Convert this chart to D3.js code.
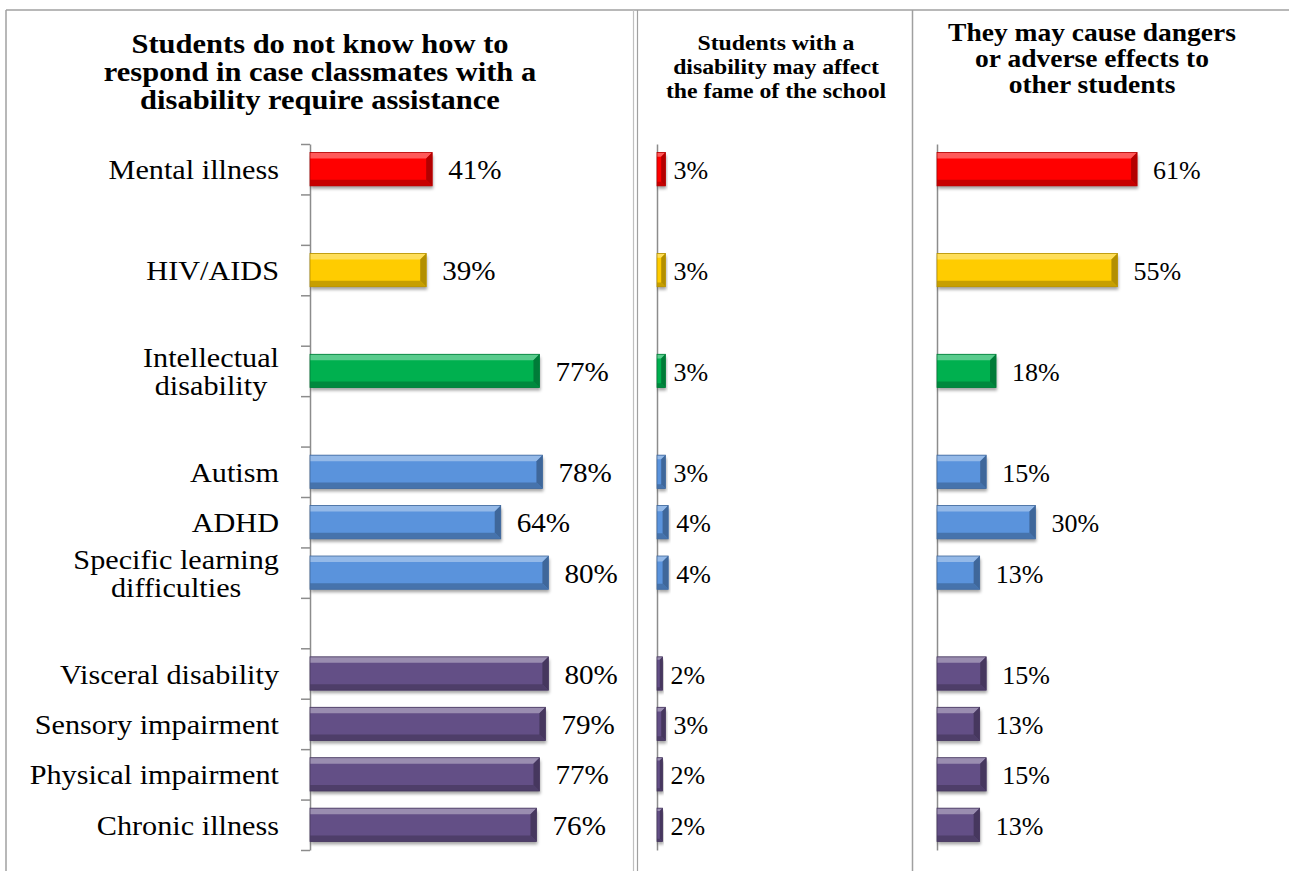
<!DOCTYPE html>
<html>
<head>
<meta charset="utf-8">
<script src="https://cdn.jsdelivr.net/npm/d3@7"></script>
<style>
  html, body { margin: 0; padding: 0; background: #ffffff; }
  svg { display: block; }
  text { font-family: "Liberation Serif", "Times New Roman", serif; fill: #000; }
</style>
</head>
<body>
<svg id="chart" width="1289" height="871"></svg>
<script>
// ---------------- data ----------------
const categories = ["Mental illness", "HIV/AIDS", "Intellectual disability", "Autism", "ADHD",
  "Specific learning difficulties", "Visceral disability", "Sensory impairment",
  "Physical impairment", "Chronic illness"];
const labelLines = [["Mental illness"], ["HIV/AIDS"], ["Intellectual", "disability"], ["Autism"], ["ADHD"],
  ["Specific learning", "difficulties"], ["Visceral disability"], ["Sensory impairment"],
  ["Physical impairment"], ["Chronic illness"]];
// slots on the category axis (gaps between groups are empty categories)
const slots = ["Mental illness", "gap1", "HIV/AIDS", "gap2", "Intellectual disability", "gap3",
  "Autism", "ADHD", "Specific learning difficulties", "gap4",
  "Visceral disability", "Sensory impairment", "Physical impairment", "Chronic illness"];
const respondValues = [41, 39, 77, 78, 64, 80, 80, 79, 77, 76];
const fameValues = [3, 3, 3, 3, 4, 4, 2, 3, 2, 2];
const dangerValues = [61, 55, 18, 15, 30, 13, 15, 13, 15, 13];
const barColors = ["#ff0000", "#ffcc00", "#00b050", "#5a93dc", "#5a93dc", "#5a93dc",
  "#644f86", "#644f86", "#644f86", "#644f86"];
const title1 = ["Students do not know how to", "respond in case classmates  with a", "disability require assistance"];
const title2 = ["Students with a", "disability may affect", "the fame of the school"];
const title3 = ["They may cause dangers", "or adverse effects to", "other students"];

// ---------------- setup ----------------
const svg = d3.select("#chart");
const defs = svg.append("defs");
const f = defs.append("filter").attr("id", "shadow").attr("x", "-10%").attr("y", "-30%").attr("width", "130%").attr("height", "180%");
f.append("feDropShadow").attr("dx", 1).attr("dy", 3).attr("stdDeviation", 1.8)
  .attr("flood-color", "#000").attr("flood-opacity", 0.35);

const borderColor = "#a0a0a0";
// frame
svg.append("line").attr("x1", 6).attr("x2", 1289).attr("y1", 10).attr("y2", 10).attr("stroke", borderColor).attr("stroke-width", 1.5);
svg.append("line").attr("x1", 6).attr("x2", 6).attr("y1", 10).attr("y2", 871).attr("stroke", borderColor).attr("stroke-width", 1.5);
svg.append("line").attr("x1", 633.5).attr("x2", 633.5).attr("y1", 10).attr("y2", 871).attr("stroke", "#c0c0c0").attr("stroke-width", 1.2);
svg.append("line").attr("x1", 637.5).attr("x2", 637.5).attr("y1", 10).attr("y2", 871).attr("stroke", borderColor).attr("stroke-width", 1.2);
svg.append("line").attr("x1", 912.5).attr("x2", 912.5).attr("y1", 10).attr("y2", 871).attr("stroke", borderColor).attr("stroke-width", 1.5);

const y = d3.scaleBand().domain(slots).range([144, 850]).paddingInner(0.34).paddingOuter(0.17);
const yEdge = d3.scaleLinear().domain([0, slots.length]).range([144, 850]);

const x1 = d3.scaleLinear().domain([0, 100]).range([310, 608]);
const x2 = d3.scaleLinear().domain([0, 100]).range([657, 937]);
const x3 = d3.scaleLinear().domain([0, 100]).range([937, 1265]);

function mix(c, t, amt) { return d3.interpolateRgb(c, t)(amt); }

function text(g, x, yy, str, size, anchor, sx, weight) {
  g.append("text")
    .attr("transform", `translate(${x},${yy}) scale(${sx},1)`)
    .attr("text-anchor", anchor)
    .style("font-size", size + "px")
    .style("font-weight", weight || "normal")
    .text(str);
}

function bars(values, xs, labelGap, numSize, numSx) {
  const g = svg.append("g");
  values.forEach((v, i) => {
    const cat = categories[i];
    const c = barColors[i];
    const x0 = xs(0), x1p = xs(v), w = x1p - x0;
    const yy = y(cat), h = y.bandwidth();
    const b = Math.min(6, w / 2);
    const bg = g.append("g");
    bg.append("rect").attr("x", x0).attr("y", yy).attr("width", w).attr("height", h)
      .attr("fill", c).attr("filter", "url(#shadow)");
    // top bevel
    bg.append("polygon").attr("points", [[x0, yy], [x1p, yy], [x1p - b, yy + b], [x0, yy + b]].join(" "))
      .attr("fill", mix(c, "#ffffff", 0.35));
    // bottom bevel
    bg.append("polygon").attr("points", [[x0, yy + h - b], [x1p - b, yy + h - b], [x1p, yy + h], [x0, yy + h]].join(" "))
      .attr("fill", mix(c, "#000000", 0.22));
    // right bevel
    bg.append("polygon").attr("points", [[x1p - b, yy + b], [x1p, yy], [x1p, yy + h], [x1p - b, yy + h - b]].join(" "))
      .attr("fill", mix(c, "#000000", 0.3));
    bg.append("rect").attr("x", x0).attr("y", yy).attr("width", w).attr("height", h)
      .attr("fill", "none").attr("stroke", mix(c, "#000000", 0.3)).attr("stroke-width", 0.8);
    text(g, x1p + labelGap, yy + h / 2 + 10, v + "%", numSize, "start", numSx);
  });
}

// ---------------- panel 1 ----------------
const ax1 = d3.axisLeft(yEdge).tickValues(d3.range(slots.length + 1)).tickSize(9).tickSizeOuter(0).tickFormat("");
const gAx1 = svg.append("g").attr("transform", "translate(310,0)").call(ax1);
gAx1.selectAll("path,line").attr("stroke", "#8c8c8c").attr("stroke-width", 1.5);

bars(respondValues, x1, 16, 27, 1.08);

const labelRight = 279, labelSx = 1.12;
const gl = svg.append("g");
labelLines.forEach((lines, i) => {
  const cy = y(categories[i]) + y.bandwidth() / 2;
  if (lines.length === 1) {
    text(gl, labelRight, cy + 10, lines[0], 27, "end", labelSx);
  } else {
    // centred block, right edge at labelRight
    const tmp = gl.append("text").style("font-size", "27px").text(lines[0]);
    const wLine = tmp.node().getComputedTextLength() * labelSx;
    tmp.remove();
    const cx = labelRight - wLine / 2;
    text(gl, cx, cy - 4, lines[0], 27, "middle", labelSx);
    text(gl, cx, cy + 24, lines[1], 27, "middle", labelSx);
  }
});

const gt = svg.append("g");
title1.forEach((t, i) => text(gt, 320, 53 + i * 28, t, 27, "middle", 1.13, "bold"));
title2.forEach((t, i) => text(gt, 776, 50 + i * 24, t, 22, "middle", 1.08, "bold"));
title3.forEach((t, i) => text(gt, 1092, 41 + i * 26, t, 25, "middle", 1.1, "bold"));

// ---------------- panel 2 ----------------
const axPlain = d3.axisLeft(yEdge).tickValues([]).tickSizeOuter(0);
const gAx2 = svg.append("g").attr("transform", "translate(657,0)").call(axPlain);
gAx2.selectAll("path").attr("stroke", "#8c8c8c").attr("stroke-width", 1.5);
bars(fameValues, x2, 8, 26, 1.0);

// ---------------- panel 3 ----------------
const gAx3 = svg.append("g").attr("transform", "translate(937,0)").call(axPlain);
gAx3.selectAll("path").attr("stroke", "#8c8c8c").attr("stroke-width", 1.5);
bars(dangerValues, x3, 16, 26, 1.0);
</script>
</body>
</html>
